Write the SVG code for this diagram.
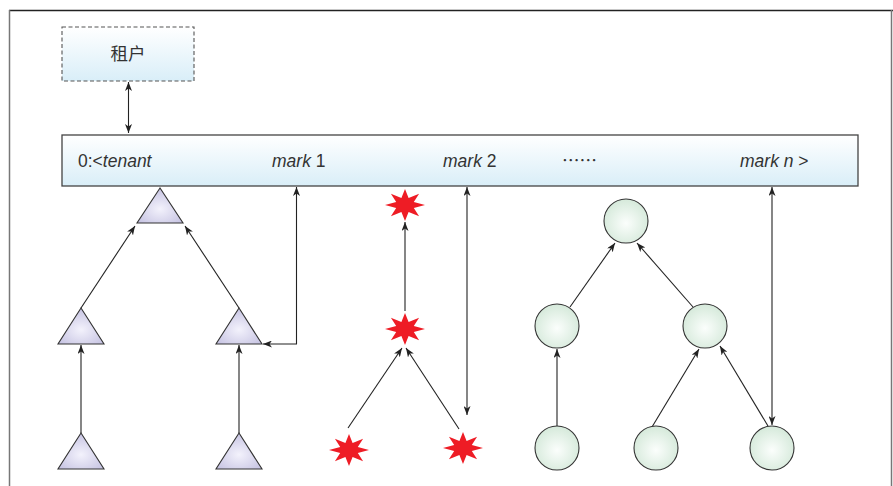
<svg xmlns="http://www.w3.org/2000/svg" width="893" height="486" viewBox="0 0 893 486">
  <style>
    .frame-top { stroke: #222; stroke-width: 1.5; fill: none; }
    .frame-side { stroke: #777; stroke-width: 1.5; fill: none; }
    .edge { stroke: #222; stroke-width: 1.1; fill: none; marker-end: url(#arrow); }
    .edge2 { stroke: #222; stroke-width: 1.1; fill: none; marker-end: url(#arrow); marker-start: url(#arrow); }
    .tri { fill: url(#triFill); stroke: #333; stroke-width: 1.1; }
    .circ { fill: url(#circFill); stroke: #333; stroke-width: 1.1; }
    .star { fill: #ee1c25; }
    .lbl { font-family: "Liberation Sans", "Noto Sans CJK SC", sans-serif; font-size: 17.5px; fill: #333; }
    .it { font-style: italic; }
    .cjk { font-family: "Noto Sans CJK SC", sans-serif; }
  </style>
  <defs>
    <linearGradient id="barFill" x1="0" y1="0" x2="0" y2="1">
      <stop offset="0" stop-color="#ffffff"/>
      <stop offset="1" stop-color="#d9eef8"/>
    </linearGradient>
    <radialGradient id="circFill" cx="0.5" cy="0.55" r="0.55">
      <stop offset="0" stop-color="#fbfefc"/>
      <stop offset="1" stop-color="#d5e9da"/>
    </radialGradient>
    <radialGradient id="triFill" cx="0.5" cy="0.6" r="0.6">
      <stop offset="0" stop-color="#f3f2fc"/>
      <stop offset="1" stop-color="#c6c3e2"/>
    </radialGradient>
    <marker id="arrow" viewBox="0 0 9 7" refX="9" refY="3.5" markerWidth="9" markerHeight="7" markerUnits="userSpaceOnUse" orient="auto-start-reverse">
      <path d="M0,0 L9,3.5 L0,7 L2.5,3.5 z" fill="#222"/>
    </marker>
    <polygon id="starShape" points="0,-16 3.6,-7 14.1,-11.3 8.8,-2.9 20,0 8.8,2.9 14.1,11.3 3.6,7 0,16 -3.6,7 -14.1,11.3 -8.8,2.9 -20,0 -8.8,-2.9 -14.1,-11.3 -3.6,-7"/>
  </defs>

  <rect x="0" y="0" width="893" height="486" fill="#ffffff"/>

  <!-- outer frame -->
  <g id="frame">
    <line class="frame-top" x1="9" y1="10.5" x2="893" y2="10.5"/>
    <line class="frame-side" x1="9.5" y1="10" x2="9.5" y2="486"/>
    <line class="frame-side" x1="891.5" y1="10" x2="891.5" y2="486"/>
  </g>

  <!-- connectors -->
  <g id="connectors">
    <line class="edge2" x1="128.5" y1="82" x2="128.5" y2="133"/>
    <!-- triangle tree -->
    <line class="edge" x1="81" y1="308" x2="135" y2="226"/>
    <line class="edge" x1="239" y1="308" x2="185" y2="226"/>
    <line class="edge" x1="81" y1="433" x2="81" y2="345"/>
    <line class="edge" x1="239" y1="433" x2="239" y2="345"/>
    <polyline class="edge2" points="263,344 296.5,344 296.5,187"/>
    <!-- star tree -->
    <line class="edge" x1="405" y1="311" x2="405" y2="222"/>
    <line class="edge" x1="348" y1="428" x2="402" y2="348"/>
    <line class="edge" x1="459" y1="429" x2="406" y2="348"/>
    <line class="edge2" x1="467" y1="187" x2="467" y2="415"/>
    <!-- circle tree -->
    <line class="edge" x1="570" y1="307" x2="615" y2="243"/>
    <line class="edge" x1="693" y1="307" x2="637" y2="243"/>
    <line class="edge" x1="557" y1="426" x2="557" y2="349"/>
    <line class="edge" x1="652" y1="427" x2="699" y2="349"/>
    <line class="edge" x1="768" y1="426" x2="720" y2="346"/>
    <line class="edge2" x1="772" y1="187" x2="772" y2="425"/>
  </g>

  <!-- tenant -->
  <g id="tenant">
    <rect x="62" y="27" width="132" height="54" fill="url(#barFill)" stroke="#555" stroke-width="1.1" stroke-dasharray="4,2.5"/>
    <text class="lbl cjk" x="128" y="60" text-anchor="middle" font-size="19" fill="#555">租户</text>
  </g>

  <!-- mark array -->
  <g id="markArray">
    <rect x="62" y="135" width="796" height="51" fill="url(#barFill)" stroke="#444" stroke-width="1.3"/>
    <text class="lbl" x="78" y="167">0:&lt;<tspan class="it">tenant</tspan></text>
    <text class="lbl" x="272" y="167"><tspan class="it">mark</tspan> 1</text>
    <text class="lbl" x="443" y="167"><tspan class="it">mark</tspan> 2</text>
    <text class="lbl cjk" x="562" y="167" font-size="16">……</text>
    <text class="lbl" x="740" y="167"><tspan class="it">mark n</tspan> &gt;</text>
  </g>

  <!-- triangle tree nodes -->
  <g id="tri-root"><polygon class="tri" points="160,188 137,223 183,223"/></g>
  <g id="tri-left"><polygon class="tri" points="81,308 58,344 104,344"/></g>
  <g id="tri-right"><polygon class="tri" points="239,308 216,344 262,344"/></g>
  <g id="tri-left-leaf"><polygon class="tri" points="81,433 58,469 104,469"/></g>
  <g id="tri-right-leaf"><polygon class="tri" points="239,433 216,469 262,469"/></g>

  <!-- star tree nodes -->
  <g id="star-top"><use href="#starShape" class="star" x="405" y="205"/></g>
  <g id="star-mid"><use href="#starShape" class="star" x="405" y="329"/></g>
  <g id="star-left"><use href="#starShape" class="star" x="349" y="450"/></g>
  <g id="star-right"><use href="#starShape" class="star" x="463" y="448"/></g>

  <!-- circle tree nodes -->
  <g id="circ-root"><circle class="circ" cx="626" cy="221" r="22"/></g>
  <g id="circ-left"><circle class="circ" cx="557" cy="326" r="22"/></g>
  <g id="circ-right"><circle class="circ" cx="705" cy="326" r="22"/></g>
  <g id="circ-leaf1"><circle class="circ" cx="557" cy="448" r="22"/></g>
  <g id="circ-leaf2"><circle class="circ" cx="656" cy="448" r="22"/></g>
  <g id="circ-leaf3"><circle class="circ" cx="772" cy="448" r="22"/></g>
</svg>
